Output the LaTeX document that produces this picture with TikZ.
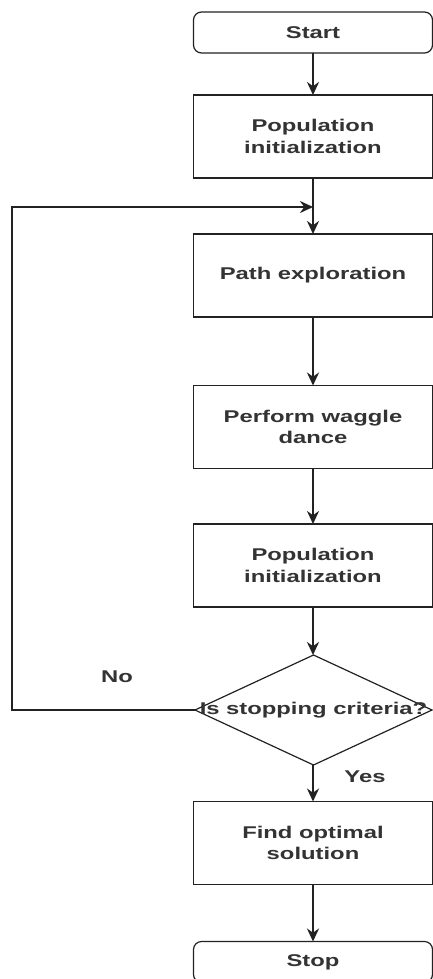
\documentclass[tikz,border=0pt]{standalone}
\usepackage{fontspec}
\setmainfont{Liberation Sans}
\newfontfamily\flowfont[FakeStretch=1.4]{Liberation Sans}
\usetikzlibrary{shapes.geometric,arrows.meta}
\definecolor{ln}{HTML}{222222}
\definecolor{tx}{HTML}{333333}
\tikzset{
  base/.style={draw=ln, line width=1.2pt, inner sep=0pt, outer sep=0pt, align=center,
    text=tx, font=\flowfont\fontsize{17}{21.5}\selectfont\bfseries},
  terminal/.style={base, rectangle, rounded corners=8pt, minimum width=239pt, minimum height=41pt},
  proc/.style={base, rectangle, minimum width=239pt, minimum height=83pt},
  dia/.style={base, diamond, minimum width=237pt, minimum height=110pt},
  lbl/.style={text=tx, inner sep=0pt, font=\flowfont\fontsize{17}{21.5}\selectfont\bfseries},
  conn/.style={draw=ln, line width=2pt, -{Stealth[length=13pt,width=12pt]}},
}
\begin{document}
\begin{tikzpicture}[x=1pt,y=-1pt]
\useasboundingbox[fill=white] (0,0) rectangle (433,979);
\node[terminal] (start) at (313,32.5) {Start};
\node[proc] (pop1) at (313,136.5) {Population\\initialization};
\node[proc] (path) at (313,275.5) {Path exploration};
\node[proc] (wag) at (313,427) {Perform waggle\\dance};
\node[proc] (pop2) at (313,565.5) {Population\\initialization};
\node[dia] (dec) at (313.5,710) {};
\node[lbl] (dectxt) at (dec.center) {Is stopping criteria?};
\node[proc] (find) at (313,843) {Find optimal\\solution};
\node[terminal] (stop) at (313,962) {Stop};
\coordinate (lb) at (12,710);
\coordinate (lt) at (12,207);
\coordinate (mj) at (313,207);
\node[lbl] (no) at (117,677) {No};
\node[lbl] (yes) at (365,777) {Yes};
\draw[conn] (start) -- (pop1);
\draw[conn] (pop1) -- (path);
\draw[conn] (path) -- (wag);
\draw[conn] (wag) -- (pop2);
\draw[conn] (pop2.south) -- (pop2.south |- dec.north);
\draw[conn] (dec.south -| find.north) -- (find);
\draw[conn] (find) -- (stop);
\draw[conn] (dec.west) -- (lb) -- (lt) -- (mj);
\end{tikzpicture}
\end{document}
